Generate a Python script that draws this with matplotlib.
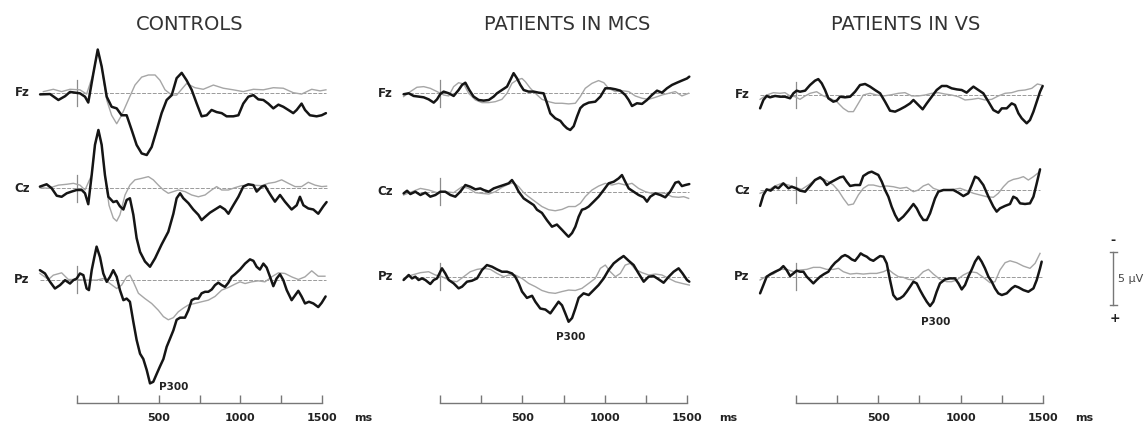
import numpy as np
import matplotlib.pyplot as plt

# ---- ERP waveforms, time in ms, amplitude in uV (negative plotted up) ----
# CONTROLS
ctl_fz_dev_t = [-226, -165, -114, -73, -43, 18, 49, 69, 100, 127, 151, 182, 212, 243, 273, 304, 335, 365, 396, 427,
                457, 488, 518, 549, 580, 610, 641, 671, 702, 733, 763, 794, 824, 855, 886, 916, 957, 988, 1018, 1049,
                1080, 1110, 1141, 1171, 1202, 1233, 1263, 1294, 1324, 1345, 1375, 1396, 1426, 1467, 1498, 1524]
ctl_fz_dev_v = [0.13, 0.1, 0.66, 0.3, -0.1, 0.03, 0.35, 0.9, -1.85, -4.1, -2.5, 0.35, 1.3, 1.45, 2.1, 2.1, 3.5, 4.9, 5.7, 5.85,
                5.1, 3.5, 1.9, 0.66, 0.2, -1.4, -1.9, -1.2, -0.3, 1.0, 2.2, 2.1, 1.6, 1.8, 1.9, 2.2, 2.2, 2.1, 1.0, 0.35,
                0.2, 0.6, 0.66, 1.0, 1.45, 1.1, 1.3, 1.6, 1.9, 1.6, 1.0, 1.6, 2.1, 2.2, 2.1, 1.9]
ctl_fz_std_t = [-206, -145, -94, -43, 18, 59, 100, 127, 151, 182, 212, 243, 273, 314, 355, 396, 437, 478, 508, 539,
                580, 610, 671, 722, 773, 835, 896, 957, 1018, 1080, 1141, 1202, 1263, 1324, 1375, 1437, 1488, 1524]
ctl_fz_std_v = [-0.13, -0.35, -0.13, -0.35, -0.3, 0.1, -1.85, -4.1, -2.5, 0.66, 2.1, 2.9, 2.1, 0.66, -0.75, -1.5, -1.7, -1.7, -1.2, -0.3,
                0.2, 0.2, -0.9, -0.5, -0.35, -0.75, -0.45, -0.3, -0.13, -0.35, -0.3, -0.5, -0.45, -0.03, 0.1, -0.35, -0.2, -0.3]

ctl_cz_dev_t = [-227, -186, -155, -124, -94, -63, -33, -2, 29, 49, 69, 90, 110, 131, 151, 171, 192, 222, 243, 263,
                284, 304, 324, 345, 365, 386, 416, 447, 478, 518, 559, 590, 610, 631, 651, 682, 712, 743, 763, 784,
                814, 845, 876, 906, 927, 957, 988, 1018, 1049, 1080, 1100, 1131, 1151, 1172, 1192, 1212, 1243, 1273,
                1314, 1345, 1365, 1386, 1416, 1447, 1477, 1508, 1528]
ctl_cz_dev_v = [-0.16, -0.38, 0, 0.7, 0.8, 0.47, 0.31, 0.16, 0.16, 0.47, 1.5, -1.26, -4.1, -5.5, -4.1, -1.26, 0.8, 1.3, 1.2, 1.7,
                2.0, 1.1, 0.94, 2.5, 4.7, 6.0, 6.9, 7.4, 6.6, 5.3, 4.1, 2.4, 0.94, 0.47, 0.94, 1.4, 2.0, 2.5, 3.0, 2.7,
                2.3, 2.0, 1.7, 2.0, 2.4, 1.6, 0.8, -0.16, -0.38, -0.3, 0.31, -0.16, -0.25, 0.31, 0.8, 1.26, 0.63, 1.26,
                2.0, 1.6, 0.8, 1.6, 1.9, 2.0, 2.4, 1.7, 1.3]
ctl_cz_std_t = [-227, -175, -114, -63, -22, 18, 49, 90, 110, 131, 151, 171, 196, 222, 243, 263, 294, 324, 355, 396,
                437, 467, 498, 529, 559, 590, 620, 661, 702, 743, 784, 824, 855, 886, 927, 967, 1008, 1069, 1131, 1172,
                1212, 1253, 1294, 1335, 1375, 1416, 1457, 1498, 1528]
ctl_cz_std_v = [-0.06, 0, -0.3, -0.38, -0.47, -0.3, 0.16, -1.26, -4.1, -5.5, -4.1, -1.26, 1.6, 2.8, 3.1, 2.5, 0.63, -0.3, -0.8, -0.94,
                -1.1, -0.8, -0.3, 0.16, 0.47, 0.31, 0.16, 0.31, 0.63, 0.8, 0.63, 0.16, -0.16, 0.16, 0.16, -0.06, -0.25, -0.3, -0.25, -0.47,
                -0.57, -0.8, -0.47, -0.16, -0.16, -0.57, -0.3, -0.16, -0.2]

ctl_pz_dev_t = [-227, -196, -165, -135, -104, -73, -43, -22, -2, 18, 39, 59, 73, 90, 106, 120, 141, 161, 182, 202,
                222, 243, 263, 284, 304, 324, 345, 365, 386, 406, 427, 447, 467, 488, 508, 529, 549, 569, 590, 610,
                631, 661, 682, 702, 722, 743, 763, 784, 804, 825, 845, 865, 886, 906, 927, 947, 967, 998, 1029, 1059,
                1080, 1100, 1120, 1141, 1161, 1182, 1202, 1222, 1243, 1263, 1284, 1314, 1335, 1355, 1375, 1396, 1420,
                1447, 1477, 1498, 1522]
ctl_pz_dev_v = [-0.88, -0.57, 0.22, 0.85, 0.53, 0.06, 0.38, 0.06, -0.09, -0.57, -0.41, 0.85, 1.0, -0.88, -2.1, -3.1, -2.1, -0.57, 0.22, -0.25,
                -0.88, -0.25, 1.0, 1.95, 1.8, 2.1, 4.0, 5.7, 7.0, 7.5, 8.55, 9.8, 9.65, 8.9, 8.2, 7.5, 6.35, 5.6, 4.8, 3.8,
                3.6, 3.6, 2.9, 1.95, 1.8, 1.8, 1.3, 1.16, 1.16, 0.94, 0.53, 0.3, 0.53, 0.7, 0.3, -0.25, -0.5, -0.94, -1.5, -1.9,
                -1.76, -1.2, -0.94, -1.5, -1.13, -0.25, 0.63, -0.09, -0.5, 0.06, 1.0, 1.95, 1.5, 1.07, 1.6, 2.26, 2.1,
                2.26, 2.6, 2.2, 1.6]
ctl_pz_std_t = [-227, -175, -145, -94, -53, -2, 39, 80, 120, 161, 202, 243, 273, 304, 324, 345, 376, 416, 457, 498,
                529, 559, 590, 620, 651, 682, 722, 763, 804, 845, 886, 927, 967, 998, 1029, 1069, 1110, 1151, 1192, 1233,
                1273, 1314, 1355, 1396, 1437, 1477, 1518]
ctl_pz_std_v = [-0.57, 0, -0.41, -0.63, 0, 0, 0.06, 0.06, 0.06, -0.09, 0.38, 0.85, 0.53, -0.25, -0.41, 0.22, 1.3, 1.8, 2.26, 2.9,
                3.5, 3.8, 3.6, 3.05, 2.7, 2.4, 2.26, 2.1, 1.95, 1.6, 1.0, 0.75, 0.44, 0.22, 0.38, 0.22, 0.13, 0.22, -0.25, -0.63,
                -0.57, -0.25, 0, -0.25, -0.82, -0.31, -0.31]

# PATIENTS IN MCS
mcs_fz_dev_t = [-221, -190, -160, -130, -99, -69, -38, -18, 2, 22, 53, 83, 113, 134, 154, 178, 204, 235, 265, 296,
                326, 346, 376, 407, 427, 447, 468, 488, 508, 538, 569, 599, 629, 650, 670, 700, 731, 751, 771, 791,
                812, 832, 852, 872, 903, 943, 974, 1004, 1034, 1065, 1095, 1125, 1146, 1166, 1196, 1227, 1257, 1287,
                1318, 1348, 1378, 1409, 1439, 1469, 1500, 1514]
mcs_fz_dev_v = [0.09, 0, 0.25, 0.31, 0.38, 0.57, 0.88, 0.57, 0.06, -0.16, 0, 0.25, -0.31, -0.79, -1.0, -0.31, 0.31, 0.63, 0.69, 0.63,
                0.31, 0, -0.31, -0.63, -1.26, -1.9, -1.4, -0.79, -0.31, -0.16, -0.16, -0.06, 0, 0.94, 1.9, 2.36, 2.6, 3.0, 3.3, 3.46,
                3.1, 2.2, 1.4, 1.1, 0.88, 0.79, 0.31, -0.47, -0.47, -0.38, -0.25, 0.16, 0.63, 1.2, 0.94, 1.0, 0.63, 0.16,
                -0.25, -0.06, -0.47, -0.79, -1.0, -1.2, -1.4, -1.57]
mcs_fz_std_t = [-221, -180, -140, -99, -59, -18, 22, 53, 83, 113, 144, 174, 215, 255, 296, 336, 376, 407, 437, 468,
                498, 518, 549, 579, 619, 660, 700, 741, 781, 822, 852, 882, 923, 963, 995, 1024, 1065, 1105, 1146, 1186,
                1227, 1267, 1308, 1348, 1389, 1429, 1469, 1510]
mcs_fz_std_v = [0.31, -0.16, -0.57, -0.63, -0.47, -0.16, 0.16, 0.25, -0.63, -1.0, -0.88, 0, 0.63, 0.88, 0.88, 0.79, 0.57, 0, -0.94, -1.26,
                -1.4, -1.1, -0.47, 0, 0.57, 0.79, 0.94, 0.94, 1.0, 0.94, 0.31, -0.47, -0.94, -1.2, -1.0, -0.47, -0.16, -0.25, -0.16, 0.25,
                0.47, 0.57, 0.38, 0.16, 0, -0.16, 0.25, 0]

mcs_cz_dev_t = [-221, -200, -180, -150, -119, -89, -59, -28, 2, 32, 63, 93, 123, 154, 184, 215, 245, 265, 296, 326,
                356, 387, 417, 437, 457, 478, 508, 538, 569, 589, 619, 650, 680, 710, 741, 771, 781, 802, 822, 842,
                862, 882, 903, 933, 963, 994, 1024, 1055, 1085, 1105, 1125, 1146, 1176, 1206, 1237, 1257, 1277, 1308,
                1338, 1368, 1398, 1429, 1449, 1469, 1490, 1514]
mcs_cz_dev_v = [0.16, -0.09, 0.22, 0, 0.31, 0.09, 0.47, 0.31, 0, 0, 0.31, 0.47, 0, -0.63, -0.47, -0.22, -0.31, -0.16, 0, -0.31,
                -0.47, -0.63, -0.79, -1.1, -0.63, 0, 0.63, 0.94, 1.26, 1.7, 2.0, 2.7, 3.3, 3.1, 3.6, 4.1, 4.25, 3.9, 3.3, 2.36,
                1.7, 1.6, 1.4, 0.94, 0.47, -0.16, -0.79, -0.94, -1.26, -1.57, -0.94, -0.31, 0, 0.31, 0.53, 0.94, 0.47, 0.16,
                0.31, 0.53, 0, -0.85, -0.94, -0.53, -0.63, -0.72]
mcs_cz_std_t = [-221, -170, -119, -69, -18, 32, 83, 134, 174, 215, 255, 296, 336, 376, 417, 447, 478, 508, 538, 579,
                619, 660, 700, 741, 781, 822, 852, 882, 923, 963, 1004, 1044, 1085, 1125, 1166, 1206, 1247, 1287, 1328, 1368,
                1409, 1449, 1480, 1510]
mcs_cz_std_v = [0.31, 0, -0.31, -0.16, 0.09, 0, 0.09, -0.47, -0.31, 0.09, 0.16, 0.22, 0, -0.41, -0.72, -0.85, -0.47, 0.09, 0.47, 0.94,
                1.4, 1.7, 1.8, 1.67, 1.4, 1.4, 1.1, 0.47, -0.16, -0.53, -0.79, -0.63, -0.79, -0.63, -0.79, -0.31, 0, 0.16, 0.09, 0.16,
                0.47, 0.53, 0.47, 0.63]

mcs_pz_dev_t = [-221, -190, -170, -150, -130, -109, -89, -59, -38, -18, 12, 32, 53, 83, 113, 134, 164, 194, 225, 255,
                285, 316, 346, 376, 407, 437, 457, 478, 498, 528, 559, 579, 609, 640, 670, 700, 720, 741, 761, 781,
                802, 822, 842, 872, 903, 933, 963, 994, 1024, 1055, 1085, 1115, 1146, 1176, 1206, 1237, 1267, 1297,
                1328, 1358, 1389, 1419, 1449, 1473, 1500, 1514]
mcs_pz_dev_v = [0.31, -0.16, 0.16, 0, 0.31, 0.16, 0.31, 0.69, 0.31, 0.16, -0.79, -0.31, 0.31, 0.63, 1.1, 0.94, 0.47, 0.38, 0.16, -0.63,
                -1.1, -0.94, -0.69, -0.47, -0.47, -0.31, 0, 0.63, 1.4, 2.0, 1.8, 2.36, 3.0, 3.1, 3.46, 2.8, 2.36, 2.7, 3.46, 4.25,
                3.9, 3.0, 2.0, 1.57, 1.73, 1.26, 0.79, 0.16, -0.63, -1.26, -1.63, -1.95, -1.5, -1.1, -0.31, 0.47, 0, -0.06,
                0.25, 0.57, 0, -0.47, -0.79, -0.31, 0.31, 0.47]
mcs_pz_std_t = [-221, -170, -119, -69, -28, 12, 63, 103, 144, 184, 225, 265, 306, 346, 387, 417, 457, 498, 538, 579,
                619, 660, 700, 741, 781, 822, 862, 903, 943, 974, 1004, 1034, 1065, 1095, 1125, 1156, 1186, 1227, 1267, 1308,
                1348, 1389, 1429, 1469, 1514]
mcs_pz_std_v = [0.16, -0.16, -0.38, -0.47, -0.16, 0, 0.38, 0.47, 0, -0.47, -0.69, -0.79, -0.69, -0.31, 0, -0.16, -0.16, 0.16, 0.63, 0.94,
                1.3, 1.5, 1.57, 1.4, 1.26, 1.3, 1.1, 0.63, 0.16, -0.79, -1.1, -0.47, 0, -0.31, -1.1, -1.26, -0.69, -0.38, -0.16, -0.25,
                -0.16, 0.16, 0.47, 0.63, 0.79]

# PATIENTS IN VS
vs_fz_dev_t = [-216, -196, -176, -156, -125, -95, -65, -34, -14, 6, 26, 57, 87, 117, 137, 158, 178, 198, 228, 249,
               269, 299, 330, 360, 390, 421, 451, 481, 512, 542, 572, 603, 633, 663, 694, 714, 744, 770, 795, 825,
               855, 886, 916, 946, 977, 1007, 1037, 1058, 1078, 1108, 1138, 1169, 1199, 1229, 1250, 1280, 1310, 1330,
               1351, 1371, 1401, 1421, 1442, 1462, 1482, 1498]
vs_fz_dev_v = [1.26, 0.47, 0.09, 0.22, 0.09, 0.16, 0.16, 0.31, -0.16, -0.41, -0.31, -0.41, -0.94, -1.35, -1.5, -1.1, -0.47, 0.31, 0.63, 0.53,
               0.16, 0.22, 0.16, -0.31, -0.94, -1.04, -0.79, -0.47, -0.16, 0.63, 1.48, 1.57, 1.35, 1.1, 0.79, 0.47, 0.94, 1.35, 0.79, 0.16,
               -0.47, -0.85, -0.85, -0.63, -0.53, -0.47, -0.22, -0.53, -0.79, -0.47, -0.16, 0.63, 1.42, 1.67, 1.26, 1.26, 0.79, 0.94,
               1.73, 2.2, 2.67, 2.36, 1.57, 0.63, -0.31, -0.85]
vs_fz_std_t = [-216, -176, -135, -95, -65, -34, -4, 26, 57, 87, 127, 168, 208, 249, 289, 319, 350, 380, 410, 451,
               491, 532, 572, 623, 663, 704, 744, 785, 825, 865, 906, 946, 987, 1027, 1068, 1108, 1148, 1189, 1229, 1270,
               1310, 1351, 1391, 1432, 1466, 1492]
vs_fz_std_v = [0.41, 0, -0.22, -0.16, -0.22, 0.09, 0.16, 0.41, 0.09, -0.16, -0.31, 0.09, 0.31, 0.63, 1.26, 1.57, 1.57, 0.79, 0, -0.16,
               0, 0.09, 0, -0.16, -0.22, 0.09, 0.09, 0, -0.16, -0.22, -0.09, 0, 0.16, 0.47, 0.41, 0.31, 0.47, 0.41, 0.09, -0.16,
               -0.22, -0.41, -0.47, -0.63, -1.04, -0.94]

vs_cz_dev_t = [-216, -196, -176, -152, -125, -105, -75, -44, -24, 2, 26, 57, 87, 117, 148, 168, 188, 208, 238, 269,
               289, 309, 330, 360, 390, 410, 441, 461, 481, 501, 522, 542, 562, 582, 603, 623, 653, 683, 714, 734,
               754, 774, 795, 815, 845, 865, 896, 926, 956, 986, 1017, 1047, 1068, 1088, 1108, 1138, 1169, 1199, 1219,
               1239, 1270, 1300, 1320, 1340, 1361, 1391, 1421, 1442, 1462, 1482]
vs_cz_dev_v = [1.5, 0.47, -0.06, 0.06, -0.31, -0.16, -0.63, -0.16, -0.31, -0.16, 0.06, 0.16, -0.38, -0.94, -1.2, -0.94, -0.47, -0.69, -0.94, -1.2,
               -1.26, -0.79, -0.38, -0.47, -0.47, -1.32, -1.63, -1.73, -1.57, -1.42, -0.79, 0, 0.63, 1.57, 2.36, 2.9, 2.5, 1.95, 1.32, 1.73,
               2.36, 2.83, 2.83, 2.2, 0.79, 0.16, 0, 0, 0, 0.25, 0.57, 0.31, -0.47, -1.26, -1.1, -0.47, 0.63, 1.57, 2.04,
               1.73, 1.5, 1.32, 0.63, 0.79, 1.26, 1.32, 1.26, 0.63, -0.63, -1.95]
vs_cz_std_t = [-216, -166, -125, -85, -44, -4, 36, 77, 117, 158, 198, 228, 259, 289, 319, 350, 380, 410, 441, 471,
               512, 552, 592, 633, 673, 714, 744, 774, 805, 835, 875, 916, 956, 997, 1037, 1078, 1118, 1158, 1199, 1229,
               1260, 1290, 1320, 1351, 1381, 1411, 1442, 1472, 1482]
vs_cz_std_v = [0.31, 0, -0.38, -0.63, -0.47, -0.25, -0.06, -0.47, -0.94, -1.1, -0.79, -0.47, 0.06, 0.79, 1.42, 1.32, 0.47, -0.16, -0.47, -0.47,
               -0.31, -0.38, -0.31, -0.16, -0.25, 0.16, 0, -0.38, -0.57, -0.16, 0.06, 0, -0.06, -0.16, 0.06, 0.31, 0.47, 0.63, 0.69, 0.31,
               -0.31, -0.79, -1.0, -1.1, -1.26, -0.94, -1.26, -1.63, -1.82]

vs_pz_dev_t = [-216, -196, -176, -152, -125, -95, -75, -55, -34, -14, 6, 26, 47, 67, 87, 107, 127, 148, 172, 198,
               218, 239, 259, 279, 299, 319, 340, 360, 380, 394, 410, 431, 451, 471, 491, 512, 532, 552, 572, 592,
               613, 633, 653, 673, 694, 714, 734, 754, 774, 795, 815, 835, 855, 875, 906, 936, 966, 987, 1007, 1027,
               1047, 1068, 1088, 1108, 1128, 1148, 1169, 1189, 1209, 1229, 1250, 1280, 1310, 1330, 1351, 1381, 1411,
               1442, 1462, 1482, 1492]
vs_pz_dev_v = [1.57, 0.79, 0, -0.25, -0.47, -0.69, -1.0, -0.63, -0.06, -0.31, -0.57, -0.47, -0.47, 0, 0.31, 0.63, 0.31, 0, -0.25, -0.47,
               -0.94, -1.32, -1.57, -1.89, -2.04, -1.89, -1.63, -1.5, -1.89, -2.2, -2.04, -1.89, -1.63, -1.5, -1.73, -1.95, -1.89, -1.26, 0.31, 1.73,
               2.14, 2.04, 1.82, 1.42, 0.94, 0.47, 0.63, 1.26, 1.82, 2.36, 2.77, 2.36, 1.42, 0.63, 0.25, 0.16, 0.16, 0.63, 1.2, 0.79,
               0, -0.69, -1.42, -1.89, -1.42, -0.79, 0, 0.47, 1.1, 1.57, 1.73, 1.57, 1.1, 0.88, 1.0, 1.26, 1.42,
               1.1, 0.31, -0.79, -1.42]
vs_pz_std_t = [-216, -176, -135, -95, -55, -14, 26, 67, 107, 148, 188, 228, 259, 289, 330, 370, 410, 451, 491, 532,
               562, 592, 623, 653, 683, 714, 744, 774, 805, 835, 875, 916, 946, 977, 1017, 1058, 1098, 1138, 1179, 1209,
               1239, 1270, 1300, 1340, 1381, 1421, 1452, 1482]
vs_pz_std_v = [0.31, -0.06, -0.25, -0.69, -0.69, -0.47, -0.63, -0.69, -0.88, -0.88, -0.69, -0.69, -0.79, -0.47, -0.25, -0.31, -0.25, -0.31, -0.31, -0.47,
               -0.69, -0.31, 0, 0.06, 0.25, 0.31, 0, -0.47, -0.69, -0.25, 0.25, 0.47, 0.47, 0.31, -0.16, -0.47, -0.38, 0.06, 0.57, 0.47,
               -0.63, -1.32, -1.5, -1.32, -1.0, -0.79, -1.26, -2.2]

titles = ["CONTROLS", "PATIENTS IN MCS", "PATIENTS IN VS"]
channels = ["Fz", "Cz", "Pz"]
tick_values = [0, 250, 500, 750, 1000, 1250, 1500]
tick_labels = ["", "", "500", "", "1000", "", "1500"]
scale_uv = 5

# ---- layout (pixels of the 1148 x 424 output) ----
W, H = 1148, 424
PX_PER_UV = 10.6
BLACK = "#151515"
GRAY = "#a6a6a6"

panels = [
    dict(left=30, right=345, x0=77, x1500=322, base=[93, 188.3, 279.5], title_x=190, p300=(174, 387),
         data=[(ctl_fz_dev_t, ctl_fz_dev_v, ctl_fz_std_t, ctl_fz_std_v),
               (ctl_cz_dev_t, ctl_cz_dev_v, ctl_cz_std_t, ctl_cz_std_v),
               (ctl_pz_dev_t, ctl_pz_dev_v, ctl_pz_std_t, ctl_pz_std_v)]),
    dict(left=395, right=705, x0=440, x1500=687, base=[93.3, 191.7, 276.7], title_x=567, p300=(571, 337),
         data=[(mcs_fz_dev_t, mcs_fz_dev_v, mcs_fz_std_t, mcs_fz_std_v),
               (mcs_cz_dev_t, mcs_cz_dev_v, mcs_cz_std_t, mcs_cz_std_v),
               (mcs_pz_dev_t, mcs_pz_dev_v, mcs_pz_std_t, mcs_pz_std_v)]),
    dict(left=750, right=1060, x0=795.7, x1500=1043, base=[95, 190, 276.7], title_x=906, p300=(936, 322),
         data=[(vs_fz_dev_t, vs_fz_dev_v, vs_fz_std_t, vs_fz_std_v),
               (vs_cz_dev_t, vs_cz_dev_v, vs_cz_std_t, vs_cz_std_v),
               (vs_pz_dev_t, vs_pz_dev_v, vs_pz_std_t, vs_pz_std_v)]),
]

fig = plt.figure(figsize=(W / 100, H / 100), dpi=100)
fig.patch.set_facecolor("white")

AXIS_Y = 403

for title, p in zip(titles, panels):
    scale = (p["x1500"] - p["x0"]) / 1500.0
    xlim = ((p["left"] - p["x0"]) / scale, (p["right"] - p["x0"]) / scale)
    ax = fig.add_axes([p["left"] / W, 0, (p["right"] - p["left"]) / W, 1])
    ax.set_xlim(*xlim)
    ax.set_ylim(H / PX_PER_UV, 0)
    ax.axis("off")

    for ch, base_px, (dt, dv, st, sv) in zip(channels, p["base"], p["data"]):
        off = base_px / PX_PER_UV
        t_min = min(dt[0], st[0])
        t_max = max(dt[-1], st[-1])
        ax.plot([t_min, t_max], [off, off], color="#9a9a9a", lw=0.7, ls=(0, (4, 1.5)), zorder=1)
        ax.plot([0, 0], [off - 1.25, off + 1.25], color="#8c8c8c", lw=0.9, zorder=1)
        ax.plot(st, np.asarray(sv) + off, color=GRAY, lw=1.0, solid_joinstyle="round", zorder=2)
        ax.plot(dt, np.asarray(dv) + off, color=BLACK, lw=1.8, solid_joinstyle="round",
                solid_capstyle="round", zorder=3)
        ax.annotate(ch, xy=(t_min, off), xytext=(-7.5, 0), textcoords="offset points",
                    ha="right", va="center", fontsize=8.5, fontweight="bold", color="#222222")

    # time axis
    ax_t = fig.add_axes([p["left"] / W, (H - AXIS_Y) / H, (p["right"] - p["left"]) / W, 0.001])
    ax_t.set_xlim(*xlim)
    ax_t.patch.set_visible(False)
    for side in ["top", "left", "right"]:
        ax_t.spines[side].set_visible(False)
    ax_t.spines["bottom"].set_bounds(0, 1500)
    ax_t.spines["bottom"].set_color("#777777")
    ax_t.spines["bottom"].set_linewidth(1.0)
    ax_t.set_yticks([])
    ax_t.set_xticks(tick_values)
    ax_t.set_xticklabels(tick_labels)
    ax_t.tick_params(axis="x", direction="in", length=6, width=1.0, color="#777777",
                     pad=7, labelsize=8, labelcolor="#222222")
    for lab in ax_t.get_xticklabels():
        lab.set_fontweight("bold")

    fig.text((p["x1500"] + 41) / W, 1 - 418 / H, "ms", ha="center", va="center",
             fontsize=8, fontweight="bold", color="#222222")
    fig.text(p["title_x"] / W, 1 - 24 / H, title, ha="center", va="center",
             fontsize=14, color="#333333")
    fig.text(p["p300"][0] / W, 1 - p["p300"][1] / H, "P300", ha="center", va="center",
             fontsize=7.5, fontweight="bold", color="#222222")

# voltage scale bar
ax_s = fig.add_axes([1095 / W, 0, 50 / W, 1])
ax_s.set_xlim(0, 1)
ax_s.set_ylim(H / PX_PER_UV, 0)
ax_s.axis("off")
bar_top = 252 / PX_PER_UV
bx = 0.36
ax_s.plot([bx, bx], [bar_top, bar_top + scale_uv], color="#777777", lw=1.0)
ax_s.plot([bx - 0.07, bx + 0.07], [bar_top, bar_top], color="#777777", lw=1.0)
ax_s.plot([bx - 0.07, bx + 0.07], [bar_top + scale_uv, bar_top + scale_uv], color="#777777", lw=1.0)
ax_s.text(bx, bar_top - 1.05, "-", ha="center", va="center", fontsize=9, fontweight="bold", color="#222222")
ax_s.text(bx + 0.03, bar_top + scale_uv + 1.3, "+", ha="center", va="center", fontsize=9,
          fontweight="bold", color="#222222")
ax_s.text(bx + 0.1, bar_top + scale_uv / 2, f"{scale_uv} µV", ha="left", va="center",
          fontsize=8, color="#444444")

fig.savefig("out.png", dpi=100, facecolor="white")
